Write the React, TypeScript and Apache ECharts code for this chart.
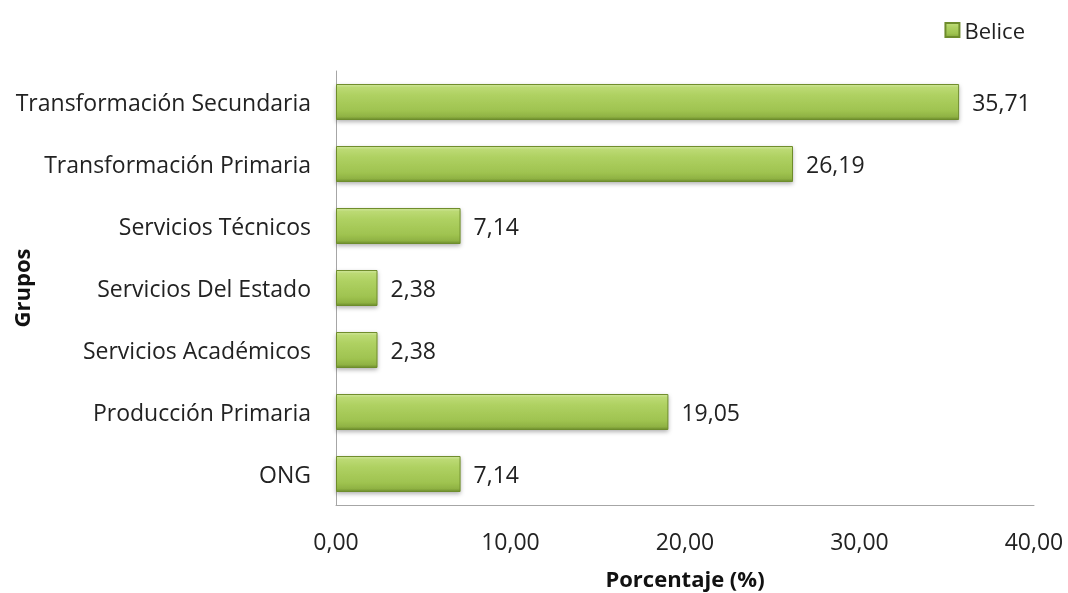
import React, { useEffect, useRef } from "react";
import * as echarts from "echarts";

const categories = [
  "ONG",
  "Producción Primaria",
  "Servicios Académicos",
  "Servicios Del Estado",
  "Servicios Técnicos",
  "Transformación Primaria",
  "Transformación Secundaria",
];
const beliceValues = [7.14, 19.05, 2.38, 2.38, 7.14, 26.19, 35.71];
const seriesName = "Belice";
const xTicks = { min: 0, max: 40, interval: 10 };

const fmt = (v: number) => v.toFixed(2).replace(".", ",");

export default function App() {
  const ref = useRef<HTMLDivElement>(null);
  useEffect(() => {
    if (!ref.current) return;
    const chart = echarts.init(ref.current, undefined, { renderer: "svg" });
    const font = "'Open Sans', sans-serif";
    const fs = 23;
    const barColor = new echarts.graphic.LinearGradient(0, 0, 0, 1, [
      { offset: 0, color: "#d2e8a0" },
      { offset: 0.08, color: "#bcda74" },
      { offset: 0.3, color: "#afd162" },
      { offset: 0.75, color: "#9fc350" },
      { offset: 0.92, color: "#8fb243" },
      { offset: 1, color: "#6f8e2d" },
    ]);
    chart.setOption({
      animation: false,
      textStyle: { fontFamily: font },
      grid: {
        left: 336,
        right: 34,
        top: 71,
        bottom: 88,
        containLabel: false,
        outerBoundsMode: "none",
      },
      legend: {
        right: 38,
        top: 14,
        itemWidth: 14,
        itemHeight: 14,
        itemGap: 4,
        icon: "rect",
        textStyle: { fontFamily: font, fontSize: 22, color: "#222" },
        data: [seriesName],
      },
      xAxis: {
        type: "value",
        min: xTicks.min,
        max: xTicks.max,
        interval: xTicks.interval,
        name: "Porcentaje (%)",
        nameLocation: "middle",
        nameGap: 62,
        nameMoveOverlap: false,
        nameTextStyle: { fontFamily: font, fontSize: 22, fontWeight: "bold", color: "#111" },
        axisLine: { show: true, lineStyle: { color: "#a6a6a6" } },
        axisTick: { show: false },
        splitLine: { show: false },
        axisLabel: {
          formatter: (v: number) => fmt(v),
          fontSize: fs,
          color: "#222",
          margin: 24,
          fontFamily: font,
        },
      },
      yAxis: {
        type: "category",
        data: categories,
        name: "Grupos",
        nameLocation: "middle",
        nameGap: 304,
        nameMoveOverlap: false,
        nameRotate: 90,
        nameTextStyle: { fontFamily: font, fontSize: 22, fontWeight: "bold", color: "#111" },
        axisLine: { show: true, lineStyle: { color: "#a6a6a6" } },
        axisTick: { show: false },
        axisLabel: { fontSize: fs, color: "#222", margin: 25, fontFamily: font },
      },
      series: [
        {
          name: seriesName,
          type: "bar",
          data: beliceValues,
          barWidth: "58%",
          itemStyle: {
            color: barColor,
            borderColor: "#6e8c2c",
            borderWidth: 1,
            shadowColor: "rgba(0,0,0,0.3)",
            shadowBlur: 4,
            shadowOffsetY: 2,
          },
          label: {
            show: true,
            position: "right",
            distance: 13,
            formatter: (p: any) => fmt(p.value),
            fontSize: fs,
            color: "#222",
            fontFamily: font,
          },
        },
      ],
    });
    return () => chart.dispose();
  }, []);
  return (
    <div
      ref={ref}
      style={{ position: "fixed", left: 0, top: 0, width: 1068, height: 593 }}
    />
  );
}
